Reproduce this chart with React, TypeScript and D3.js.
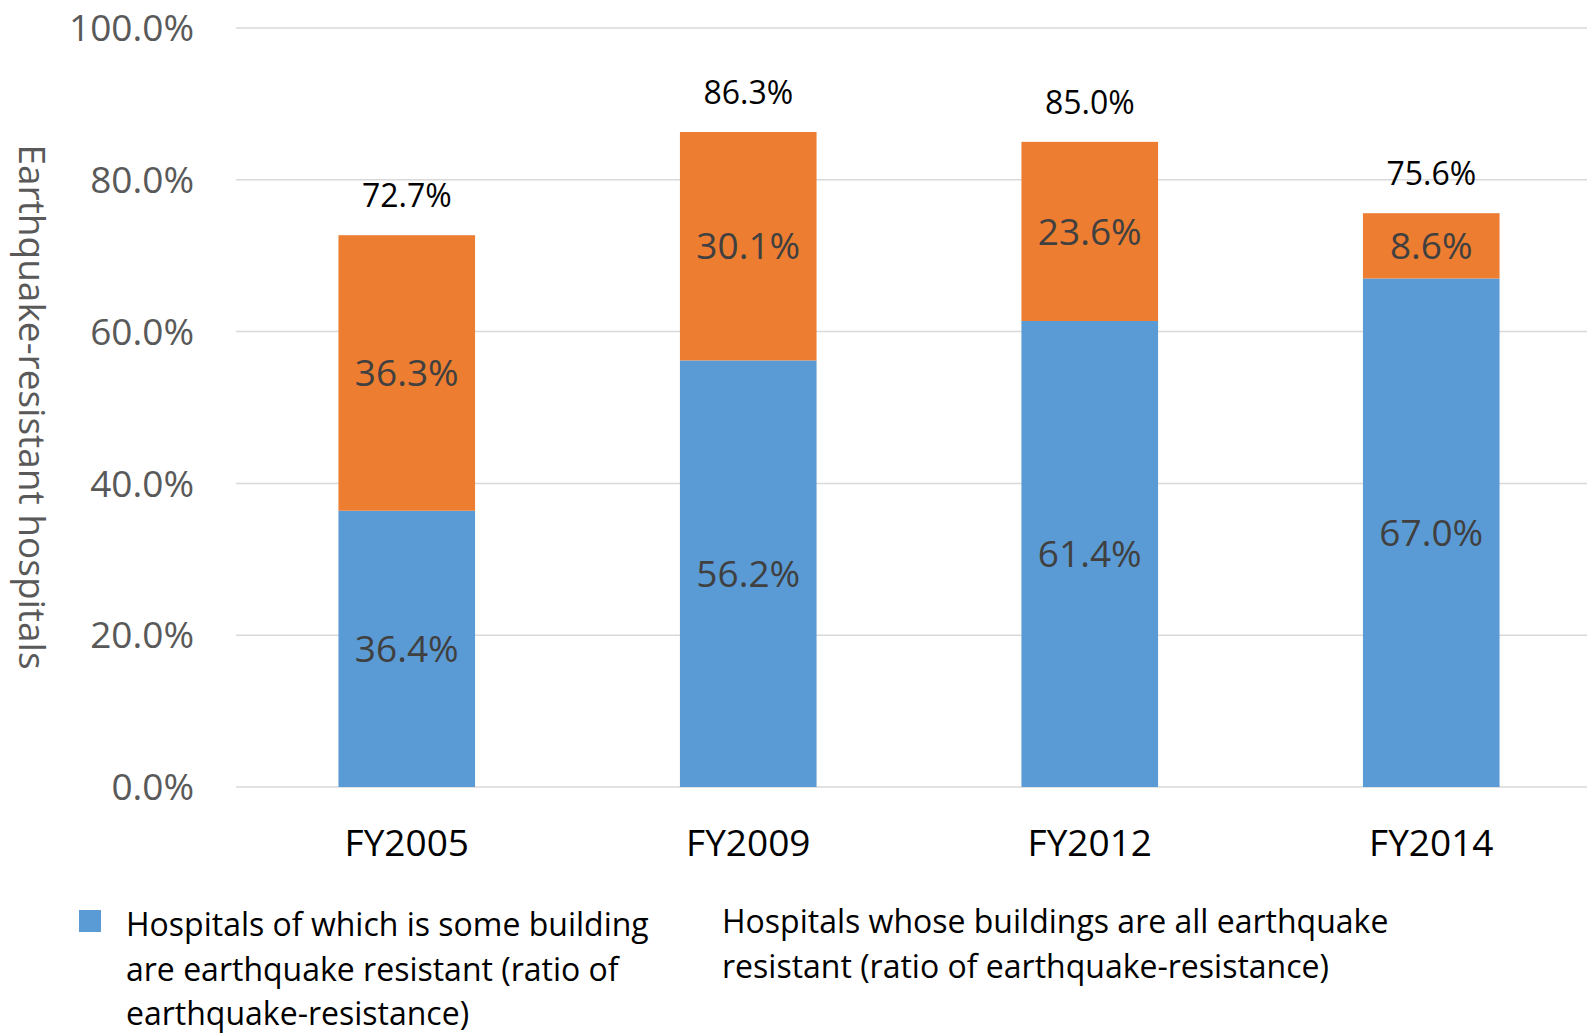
import React from 'react';
import { scaleBand, scaleLinear } from 'd3';

const years = ['FY2005', 'FY2009', 'FY2012', 'FY2014'];
const someResistant = [36.4, 56.2, 61.4, 67.0];
const allResistant = [36.3, 30.1, 23.6, 8.6];
const totals = [72.7, 86.3, 85.0, 75.6];
const yTicks = [0, 20, 40, 60, 80, 100];
const legendSome = ['Hospitals of which is some building', 'are earthquake resistant (ratio of', 'earthquake-resistance)'];
const legendAll = ['Hospitals whose buildings are all earthquake', 'resistant (ratio of earthquake-resistance)'];

const W = 1587, H = 1034;
const font = '"Open Sans", sans-serif';

export default function App() {
  const x = scaleBand().domain(years).range([236, 1602]).paddingInner(0.6).paddingOuter(0.3);
  const y = scaleLinear().domain([0, 100]).range([787, 28]);
  const fmt = (v: number) => v.toFixed(1) + '%';

  return (
    <svg width={W} height={H} style={{ position: 'absolute', left: 0, top: 0, background: '#fff' }} fontFamily={font}>
      {/* gridlines + y labels */}
      {yTicks.map(t => (
        <g key={t}>
          <line x1={236} x2={W} y1={y(t)} y2={y(t)} stroke="#D9D9D9" strokeWidth={1.5} />
          <text x={194} y={y(t)} dy="0.357em" textAnchor="end" fontSize={37} fill="#595959">{fmt(t)}</text>
        </g>
      ))}

      <text transform={`translate(19,407) rotate(90)`} textAnchor="middle" fontSize={37} fill="#595959">
        Earthquake-resistant hospitals
      </text>

      {years.map((yr, i) => {
        const bx = x(yr)!;
        const bw = x.bandwidth();
        const cx = bx + bw / 2;
        const b0 = y(0), b1 = y(someResistant[i]), b2 = y(someResistant[i] + allResistant[i]);
        return (
          <g key={yr}>
            <rect x={bx} width={bw} y={b1} height={b0 - b1} fill="#5B9BD5" />
            <rect x={bx} width={bw} y={b2} height={b1 - b2} fill="#ED7D31" />
            <text x={cx} y={(b0 + b1) / 2} dy="0.357em" textAnchor="middle" fontSize={37} fill="#404040">{fmt(someResistant[i])}</text>
            <text x={cx} y={(b1 + b2) / 2} dy="0.357em" textAnchor="middle" fontSize={37} fill="#404040">{fmt(allResistant[i])}</text>
            <text x={cx} y={y(totals[i]) - 28} textAnchor="middle" fontSize={32} fill="#000">{fmt(totals[i])}</text>
            <text x={cx} y={856} textAnchor="middle" fontSize={37} fill="#000">{yr}</text>
          </g>
        );
      })}

      {/* legend */}
      <rect x={79} y={910} width={22} height={22} fill="#5B9BD5" />
      {legendSome.map((l, i) => (
        <text key={l} x={126} y={936 + i * 44.5} fontSize={32} fill="#000">{l}</text>
      ))}
      {legendAll.map((l, i) => (
        <text key={l} x={722} y={933 + i * 44.5} fontSize={32} fill="#000">{l}</text>
      ))}
    </svg>
  );
}
